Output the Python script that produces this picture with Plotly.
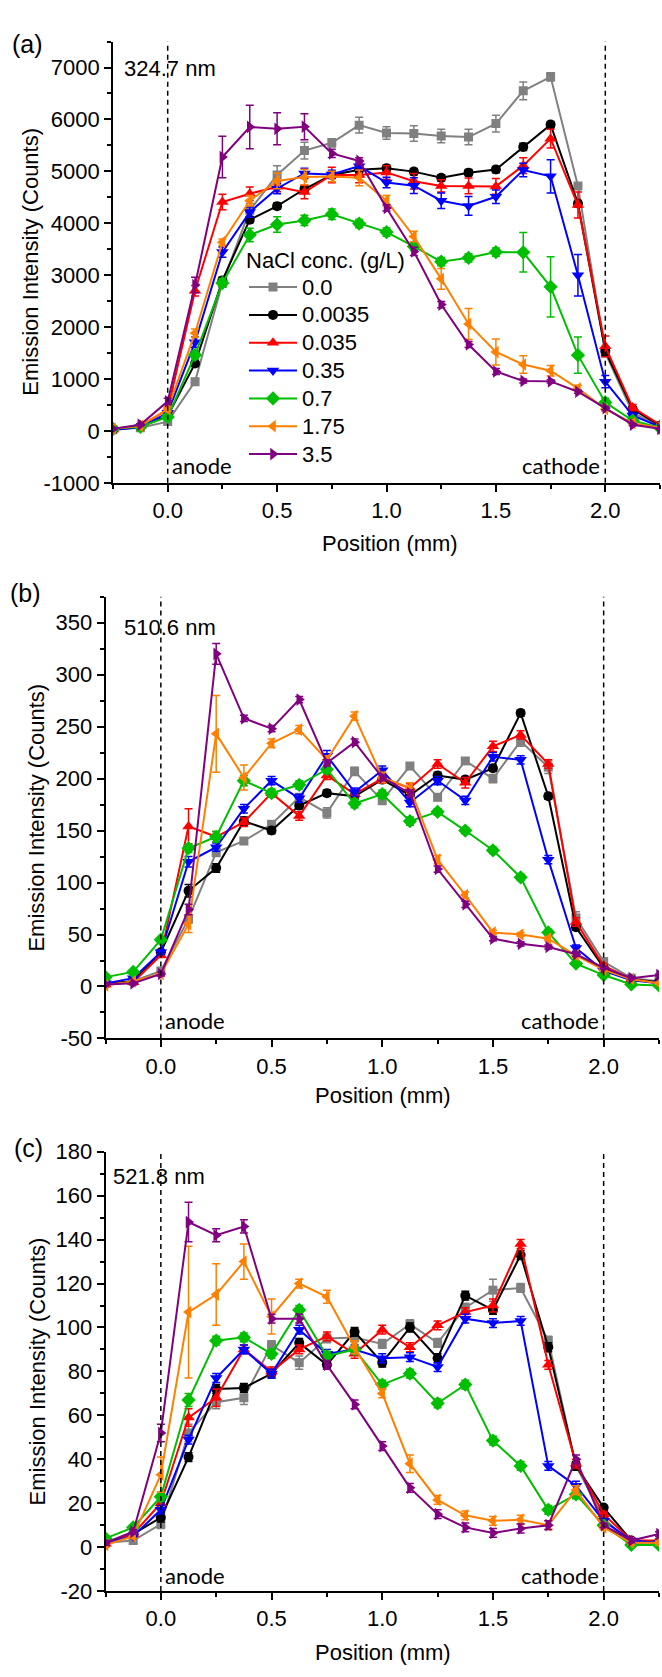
import plotly.graph_objects as go

# ---------------- data ----------------
positions = [-0.25, -0.125, 0.0, 0.125, 0.25, 0.375, 0.5, 0.625, 0.75, 0.875, 1.0,
             1.125, 1.25, 1.375, 1.5, 1.625, 1.75, 1.875, 2.0, 2.125, 2.25]

series_names = ["0.0", "0.0035", "0.035", "0.35", "0.7", "1.75", "3.5"]
series_colors = ["#808080", "#000000", "#FF0000", "#0000FF", "#00BF00", "#FF8000", "#800080"]
series_symbols = ["square", "circle", "triangle-up", "triangle-down", "diamond",
                  "triangle-left", "triangle-right"]
series_marker_sizes = [9, 10, 11, 11, 11, 11, 11]

# panel (a) 324.7 nm
a_0_0 = [30, 60, 180, 950, 2850, 4250, 4930, 5400, 5550, 5890, 5740, 5730, 5680, 5660, 5920, 6550, 6820, 4720, 1500, 350, 100]
a_0_0035 = [30, 80, 290, 1300, 2900, 4070, 4330, 4660, 4930, 5030, 5060, 4995, 4875, 4975, 5035, 5470, 5900, 4380, 1540, 420, 100]
a_0_035 = [30, 100, 410, 2700, 4410, 4570, 4705, 4600, 4930, 4930, 4980, 4810, 4720, 4720, 4710, 5110, 5630, 4350, 1630, 450, 120]
a_0_35 = [20, 70, 350, 1710, 3445, 4215, 4670, 4960, 4940, 5100, 4785, 4725, 4435, 4335, 4510, 5025, 4905, 3000, 950, 300, 80]
a_0_7 = [40, 80, 270, 1465, 2850, 3775, 3975, 4055, 4175, 3995, 3830, 3555, 3260, 3335, 3445, 3440, 2775, 1460, 550, 200, 60]
a_1_75 = [40, 100, 420, 1885, 3635, 4435, 4815, 4890, 4900, 4875, 4435, 3745, 2930, 2060, 1520, 1280, 1160, 820, 420, 150, 60]
a_3_5 = [40, 120, 570, 2810, 5275, 5855, 5820, 5860, 5345, 5200, 4295, 3458, 2435, 1665, 1145, 963, 955, 755, 440, 120, 40]

a_err_0_0 = [10, 20, 40, 60, 80, 130, 180, 160, 80, 150, 120, 150, 130, 150, 160, 170, 80, 60, 60, 40, 20]
a_err_0_0035 = [10, 20, 30, 60, 60, 60, 60, 60, 60, 60, 60, 60, 60, 60, 60, 70, 60, 60, 80, 40, 20]
a_err_0_035 = [10, 20, 40, 100, 150, 130, 100, 130, 150, 150, 130, 150, 120, 150, 150, 150, 180, 250, 200, 60, 20]
a_err_0_35 = [10, 20, 40, 100, 100, 100, 100, 100, 80, 80, 100, 150, 150, 180, 130, 130, 320, 400, 120, 40, 20]
a_err_0_7 = [10, 20, 30, 80, 80, 130, 150, 100, 100, 80, 80, 80, 80, 80, 80, 380, 580, 350, 80, 30, 20]
a_err_1_75 = [10, 20, 40, 80, 60, 100, 150, 150, 100, 150, 100, 100, 200, 300, 250, 170, 100, 60, 40, 20, 10]
a_err_3_5 = [10, 20, 60, 150, 400, 420, 310, 250, 80, 60, 60, 80, 60, 60, 60, 40, 30, 30, 30, 20, 10]

# panel (b) 510.6 nm
b_0_0 = [3, 5, 15, 65, 129, 140, 156, 182, 167, 207, 179, 212, 182, 217, 200, 236, 211, 66, 24, 8, 5]
b_0_0035 = [3, 5, 33, 92, 114, 159, 150, 174, 186, 183, 199, 184, 203, 199, 210, 263, 183, 57, 18, 7, 4]
b_0_035 = [2, 4, 30, 154, 144, 158, 186, 164, 203, 185, 200, 191, 214, 196, 231, 242, 214, 62, 20, 7, 3]
b_0_35 = [3, 8, 33, 120, 134, 171, 198, 181, 222, 187, 208, 177, 198, 179, 221, 218, 122, 37, 15, 6, 3]
b_0_7 = [9, 14, 45, 133, 144, 198, 186, 194, 209, 176, 185, 159, 168, 150, 131, 105, 52, 22, 11, 2, 1]
b_1_75 = [1, 5, 12, 60, 243, 201, 234, 247, 218, 260, 201, 191, 122, 88, 52, 50, 46, 30, 16, 7, 3]
b_3_5 = [2, 3, 12, 74, 320, 258, 248, 276, 215, 235, 201, 186, 113, 79, 46, 41, 38, 31, 18, 8, 11]

b_err_0_0 = [1, 1, 2, 4, 4, 3, 3, 3, 5, 4, 4, 3, 3, 3, 4, 5, 6, 6, 2, 1, 1]
b_err_0_0035 = [1, 1, 2, 6, 4, 4, 3, 3, 3, 3, 3, 3, 3, 3, 3, 3, 3, 3, 2, 1, 1]
b_err_0_035 = [1, 1, 2, 17, 5, 4, 3, 4, 4, 4, 4, 4, 4, 5, 5, 4, 4, 4, 2, 1, 1]
b_err_0_35 = [1, 1, 2, 5, 4, 4, 4, 4, 5, 4, 4, 4, 4, 4, 4, 4, 4, 3, 2, 1, 1]
b_err_0_7 = [1, 1, 2, 4, 5, 5, 4, 4, 4, 4, 4, 4, 3, 3, 3, 3, 3, 2, 1, 1, 1]
b_err_1_75 = [1, 1, 2, 8, 37, 12, 4, 4, 4, 4, 5, 5, 4, 3, 2, 2, 2, 2, 1, 1, 1]
b_err_3_5 = [1, 1, 2, 5, 10, 3, 3, 3, 3, 3, 3, 3, 3, 3, 2, 2, 2, 2, 1, 1, 1]

# panel (c) 521.8 nm
c_0_0 = [2, 3, 10.5, 52, 66, 68, 92, 84, 95, 95.5, 92.5, 101.5, 93, 109, 117, 118, 94, 37, 13, 2, 2]
c_0_0035 = [2, 6, 13.5, 41, 72, 72.5, 79, 93, 83, 98, 84, 100, 86, 114.5, 108, 133, 91, 37, 18, 3, 2]
c_0_035 = [1.5, 6, 20, 59, 68, 90, 80, 90, 96, 88, 99, 91, 101, 107, 110, 138, 83, 38, 15, 3, 3]
c_0_35 = [2, 5, 17, 49, 77, 90, 79, 99, 88, 90, 86, 86.5, 82, 104, 102, 103, 37, 28, 12, 3, 2]
c_0_7 = [4, 9, 23, 67, 94, 95.5, 88, 108, 87, 90, 74, 79, 65.5, 74, 48.5, 37, 17, 24, 10, 1, 1]
c_1_75 = [1, 5, 33, 107, 115, 130, 105, 120, 114, 91, 70, 38, 21.5, 14.5, 12, 12.5, 10, 26, 9, 2, 2]
c_3_5 = [2, 7, 52, 148, 142, 146, 104, 104, 83, 65, 46, 27, 15, 9, 6.5, 8.5, 10, 40, 10, 3, 6]

c_err_0_0 = [1, 1, 2, 4, 3, 3, 2, 3, 2, 2, 2, 2, 2, 2, 5, 2, 2, 2, 1, 1, 1]
c_err_0_0035 = [1, 1, 2, 2, 2, 2, 2, 2, 2, 2, 2, 2, 2, 2, 2, 2, 2, 2, 1, 1, 1]
c_err_0_035 = [1, 1, 2, 4, 4, 2, 2, 2, 2, 2, 2, 2, 2, 2, 3, 2, 2, 2, 1, 1, 1]
c_err_0_35 = [1, 1, 2, 2, 2, 2, 2, 2, 2, 2, 2, 2, 2, 2, 2, 2, 2, 2, 1, 1, 1]
c_err_0_7 = [1, 1, 2, 3, 2, 2, 2, 2, 2, 2, 2, 2, 2, 2, 2, 2, 2, 2, 1, 1, 1]
c_err_1_75 = [1, 1, 8, 30, 14, 8, 8, 2, 3, 3, 2, 4, 2, 2, 2, 2, 2, 2, 1, 1, 1]
c_err_3_5 = [1, 1, 4, 9, 3, 3, 2, 2, 2, 2, 2, 2, 2, 2, 2, 2, 2, 2, 1, 1, 1]

panel_a_values = [a_0_0, a_0_0035, a_0_035, a_0_35, a_0_7, a_1_75, a_3_5]
panel_a_errors = [a_err_0_0, a_err_0_0035, a_err_0_035, a_err_0_35, a_err_0_7, a_err_1_75, a_err_3_5]
panel_b_values = [b_0_0, b_0_0035, b_0_035, b_0_35, b_0_7, b_1_75, b_3_5]
panel_b_errors = [b_err_0_0, b_err_0_0035, b_err_0_035, b_err_0_35, b_err_0_7, b_err_1_75, b_err_3_5]
panel_c_values = [c_0_0, c_0_0035, c_0_035, c_0_35, c_0_7, c_1_75, c_3_5]
panel_c_errors = [c_err_0_0, c_err_0_0035, c_err_0_035, c_err_0_35, c_err_0_7, c_err_1_75, c_err_3_5]

panel_letters = ["(a)", "(b)", "(c)"]
wavelength_labels = ["324.7 nm", "510.6 nm", "521.8 nm"]
electrode_positions = [0.0, 2.0]
electrode_names = ["anode", "cathode"]
legend_title = "NaCl conc. (g/L)"
x_title = "Position (mm)"
y_title = "Emission Intensity (Counts)"

x_range = [-0.25, 2.25]
a_yrange = [-1000, 7500]
b_yrange = [-50, 375]
c_yrange = [-20, 180]
a_yticks = [-1000, 0, 1000, 2000, 3000, 4000, 5000, 6000, 7000]
b_yticks = [-50, 0, 50, 100, 150, 200, 250, 300, 350]
c_yticks = [-20, 0, 20, 40, 60, 80, 100, 120, 140, 160, 180]
minor_dy = [500, 25, 10]

# ---------------- layout helpers ----------------
W, H = 662, 1677
FONT = "Liberation Sans, Arial, sans-serif"
ANNOT_FONT = "Lato, Open Sans, sans-serif"

# pixel boxes (left, right, top, bottom)
boxes = [(113, 660, 30, 478), (105.5, 659, 593.5, 1042), (105.5, 659, 1157, 1603)]


def xd(l, r):
    return [l / W, r / W]


def yd(t, b):
    return [1 - b / H, 1 - t / H]


fig = go.Figure()

panels = [(panel_a_values, panel_a_errors), (panel_b_values, panel_b_errors),
          (panel_c_values, panel_c_errors)]
for p, (vals, errs) in enumerate(panels):
    xa = "x" if p == 0 else f"x{p + 1}"
    ya = "y" if p == 0 else f"y{p + 1}"
    for i in range(len(series_names)):
        fig.add_trace(go.Scatter(
            x=positions, y=vals[i], xaxis=xa, yaxis=ya,
            mode="lines+markers",
            name=f"<span style='font-size:22px'>{series_names[i]}</span>",
            showlegend=(p == 0), legendgroup=series_names[i],
            line=dict(color=series_colors[i], width=2),
            marker=dict(symbol=series_symbols[i], size=series_marker_sizes[i],
                        color=series_colors[i], line=dict(width=0)),
            error_y=dict(type="data", array=errs[i], color=series_colors[i],
                         thickness=1.5, width=4),
        ))

yranges = [a_yrange, b_yrange, c_yrange]
yticks = [a_yticks, b_yticks, c_yticks]

axis_common = dict(showgrid=False, zeroline=False, showline=True, linecolor="black",
                   linewidth=1.6, tickcolor="black", tickwidth=1.5,
                   tickfont=dict(family=FONT, size=22, color="black"))

layout = dict(width=W, height=H, margin=dict(l=0, r=0, t=0, b=0),
              paper_bgcolor="white", plot_bgcolor="white", showlegend=True)

shapes = []
annotations = []
label_gap = [18, 18.5, 16]
xt_pos = [(389.5, 540), (382.5, 1100), (382.5, 1665)]
yt_x = [30.5, 37, 37]
wl_pos = [(122, 57), (122, 625), (110.6, 1182)]
pl_pos = [(27, 32), (25, 590), (28, 1153)]
for p in range(3):
    l, r, t, b = boxes[p]
    sfx = "" if p == 0 else str(p + 1)
    xname, yname = "x" + sfx, "y" + sfx
    layout["xaxis" + sfx] = dict(
        axis_common, domain=xd(l, r), range=x_range, anchor=yname,
        ticks="outside", ticklen=7, tick0=0, dtick=0.5, tickformat=".1f",
        minor=dict(ticks="outside", ticklen=4, dtick=0.25, tick0=0, tickcolor="black", tickwidth=1.5),
    )
    layout["yaxis" + sfx] = dict(
        axis_common, domain=yd(t, b), range=yranges[p], anchor=xname,
        ticks="outside", ticklen=7, tickvals=yticks[p], ticktext=[str(v) for v in yticks[p]],
        minor=dict(ticks="outside", ticklen=4, dtick=minor_dy[p], tick0=0, tickcolor="black", tickwidth=1.5),
    )
    # mirrored axes with inward ticks (top / right)
    ox = 4 + p
    layout[f"xaxis{ox}"] = dict(
        axis_common, domain=xd(l, r), range=x_range, overlaying=xname, anchor=yname,
        side="top", ticks="inside", ticklen=5, tick0=0, dtick=0.5, showticklabels=False,
        minor=dict(ticks="inside", ticklen=5, dtick=0.25, tick0=0, tickcolor="black", tickwidth=1.5),
    )
    layout[f"yaxis{ox}"] = dict(
        axis_common, domain=yd(t, b), range=yranges[p], overlaying=yname, anchor=xname,
        side="right", ticks="inside", ticklen=8, tickvals=yticks[p], showticklabels=False,
        minor=dict(ticks="inside", ticklen=8, dtick=minor_dy[p], tick0=0, tickcolor="black", tickwidth=1.5),
    )
    # electrode dashed lines
    for xe in electrode_positions:
        shapes.append(dict(type="line", xref=xname, yref=yname + " domain", x0=xe, x1=xe,
                           y0=0, y1=1, line=dict(color="black", width=1.5, dash="5px,4px")))
    # anode / cathode labels
    ly = label_gap[p] / (b - t)
    annotations.append(dict(xref=xname, yref=yname + " domain", x=electrode_positions[0],
                            y=ly, xanchor="left", yanchor="middle",
                            xshift=2, text=electrode_names[0], showarrow=False,
                            font=dict(family=ANNOT_FONT, size=22, color="black")))
    annotations.append(dict(xref=xname, yref=yname + " domain", x=electrode_positions[1],
                            y=ly, xanchor="right", yanchor="middle",
                            xshift=-3, text=electrode_names[1], showarrow=False,
                            font=dict(family=ANNOT_FONT, size=22, color="black")))
    # wavelength label
    annotations.append(dict(xref="paper", yref="paper", x=wl_pos[p][0] / W, y=1 - wl_pos[p][1] / H,
                            xanchor="left", yanchor="middle", text=wavelength_labels[p],
                            showarrow=False, font=dict(family=FONT, size=22, color="black")))
    # panel letter
    annotations.append(dict(xref="paper", yref="paper", x=pl_pos[p][0] / W, y=1 - pl_pos[p][1] / H,
                            xanchor="center", yanchor="middle", text=panel_letters[p],
                            showarrow=False, font=dict(family=FONT, size=25, color="black")))
    # axis titles
    annotations.append(dict(xref="paper", yref="paper", x=xt_pos[p][0] / W, y=1 - xt_pos[p][1] / H,
                            xanchor="center", yanchor="middle", text=x_title,
                            showarrow=False, font=dict(family=FONT, size=22, color="black")))
    annotations.append(dict(xref="paper", yref="paper", x=yt_x[p] / W, y=1 - (t + b) / 2 / H,
                            xanchor="center", yanchor="middle", textangle=-90,
                            text=y_title,
                            showarrow=False, font=dict(family=FONT, size=22, color="black")))

layout["shapes"] = shapes
layout["annotations"] = annotations
layout["legend"] = dict(
    x=244 / W, y=1 - 231 / H, xanchor="left", yanchor="top",
    bgcolor="rgba(0,0,0,0)", borderwidth=0,
    font=dict(family=FONT, size=19.1, color="black"),
    title=dict(text=legend_title, font=dict(family=FONT, size=22, color="black")),
    tracegroupgap=0, itemwidth=48,
)

fig.update_layout(**layout)
fig.write_html("out.html")
